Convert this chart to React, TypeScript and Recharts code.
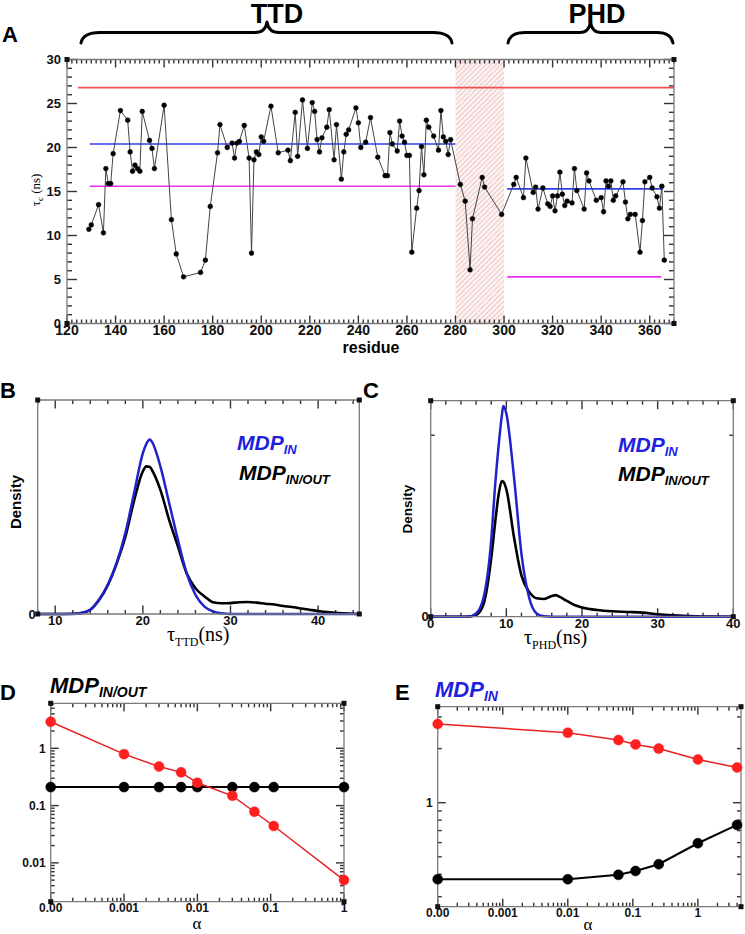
import React from 'react';
import { ComposedChart, Line, XAxis, YAxis, ReferenceLine, ReferenceArea, ReferenceDot } from 'recharts';

const SANS = '"Liberation Sans", Arial, Helvetica, sans-serif';
const SERIF = '"Liberation Serif", "Times New Roman", serif';
const GREY = '#7a7a7a';
const TICK = '#333';

// ---------------- Panel A data ----------------
const residues = [
  129, 130, 133, 135, 136, 137, 138, 139, 142, 145, 146, 147, 148, 149, 150, 151, 154, 155, 156, 160,
  163, 165, 168, 175, 177, 179, 182, 183, 186, 188, 189, 190, 191, 193, 195, 196, 197, 198, 199, 200,
  201, 204, 207, 211, 212, 214, 215, 217, 219, 221, 222, 223, 224, 225, 227, 228, 230, 231, 233, 234,
  235, 236, 239, 240, 241, 243, 245, 248, 251, 252, 253, 254, 256, 257, 258, 259, 260, 261, 262, 264,
  265, 266, 267, 268, 269, 271, 273, 274, 275, 276, 277, 278, 282, 284, 286, 287, 291, 292, 299, 304,
  305, 308, 309, 312, 313, 314, 316, 318, 319, 320, 321, 322, 323, 324, 325, 326, 328, 329, 330, 333,
  334, 335, 338, 340, 341, 342, 343, 344, 345, 346, 349, 350, 351, 352, 354, 356, 357, 358, 360, 361,
  363, 364, 365, 366,
];
const tauC = [
  10.7, 11.2, 13.5, 10.3, 17.6, 15.9, 15.9, 19.3, 24.2, 23.1, 19.5, 17.3, 18.0, 17.6, 17.3, 24.1, 20.8, 19.9, 17.6, 24.8,
  11.8, 7.9, 5.3, 5.8, 7.2, 13.3, 19.4, 22.6, 20.0, 20.5, 18.8, 20.5, 20.7, 22.5, 18.8, 8.0, 18.6, 19.5, 19.2, 21.2,
  20.7, 24.7, 19.4, 19.7, 18.5, 24.0, 19.0, 25.4, 19.9, 25.1, 24.1, 20.9, 19.5, 21.1, 22.3, 24.3, 18.6, 22.6, 16.4, 19.5,
  21.5, 22.0, 24.5, 22.8, 20.0, 20.6, 23.4, 18.9, 16.8, 16.8, 21.7, 20.4, 19.6, 23.0, 21.3, 20.6, 19.1, 19.1, 8.1, 13.1,
  15.1, 20.1, 16.9, 23.1, 22.3, 21.3, 19.7, 24.2, 21.2, 20.7, 19.2, 20.9, 15.8, 13.9, 6.1, 11.9, 16.6, 15.5, 12.4, 15.8,
  16.6, 14.3, 18.8, 14.9, 15.5, 13.0, 15.4, 13.6, 13.3, 14.5, 12.8, 14.5, 17.2, 14.7, 13.4, 13.9, 13.7, 17.6, 15.1, 13.0,
  17.1, 16.2, 14.0, 14.3, 12.7, 16.2, 15.6, 16.2, 14.0, 14.5, 16.1, 13.8, 11.9, 12.4, 12.4, 8.1, 11.7, 16.1, 16.6, 15.4,
  14.4, 13.1, 15.6, 7.2,
];
const overallMean = { from: 124.5, to: 370, value: 26.8 };
const ttdBlue = { from: 129.4, to: 280, value: 20.4 };
const ttdMagenta = { from: 129.4, to: 280, value: 15.6 };
const phdBlue = { from: 301.3, to: 365.5, value: 15.3 };
const phdMagenta = { from: 301.3, to: 364.8, value: 5.3 };
const linkerRegion = [280, 300];

// ---------------- Panel B data ----------------
const tauTTD = [8, 10, 12, 13, 14, 15, 16, 17, 18, 19, 20, 20.4, 20.8, 21, 22, 23, 24, 25, 26, 27, 28, 29, 30, 31, 32, 33, 34, 35, 36, 37, 38, 39, 40, 41, 42, 43, 44, 44.7];
const ttdIn = [0, 0, 0, 0.005, 0.02, 0.067, 0.137, 0.238, 0.378, 0.565, 0.752, 0.795, 0.815, 0.807, 0.69, 0.519, 0.347, 0.19, 0.09, 0.036, 0.012, 0.003, 0, 0, 0, 0, 0, 0, 0, 0, 0, 0, 0, 0, 0, 0, 0, 0];
const ttdInOut = [0, 0, 0.001, 0.005, 0.02, 0.065, 0.135, 0.235, 0.36, 0.53, 0.667, 0.69, 0.687, 0.675, 0.58, 0.44, 0.316, 0.19, 0.12, 0.083, 0.055, 0.05, 0.051, 0.055, 0.056, 0.053, 0.048, 0.044, 0.037, 0.033, 0.026, 0.02, 0.014, 0.009, 0.006, 0.003, 0.001, 0];

// ---------------- Panel C data ----------------
const tauPHD = [0, 4, 5, 6, 7, 8, 8.5, 9, 9.4, 9.6, 10, 11, 12, 13, 14, 15, 16, 16.5, 17, 18, 19, 20, 22, 24, 26, 28, 30, 32, 35, 40];
const phdIn = [0, 0, 0, 0.015, 0.09, 0.355, 0.6, 0.8, 0.93, 0.975, 0.94, 0.65, 0.29, 0.09, 0.015, 0.002, 0, 0, 0, 0, 0, 0, 0, 0, 0, 0, 0, 0, 0, 0];
const phdInOut = [0, 0, 0.001, 0.008, 0.06, 0.27, 0.43, 0.57, 0.628, 0.625, 0.59, 0.37, 0.19, 0.116, 0.085, 0.082, 0.096, 0.1, 0.093, 0.073, 0.054, 0.043, 0.031, 0.025, 0.022, 0.019, 0.011, 0.006, 0.002, 0];

// ---------------- Panel D data ----------------
const alphaD = [0.0001, 0.001, 0.003, 0.006, 0.01, 0.03, 0.06, 0.11, 1];
const redD = [2.9, 0.79, 0.48, 0.38, 0.25, 0.148, 0.078, 0.044, 0.005];
const blackD = [0.21, 0.21, 0.21, 0.21, 0.21, 0.21, 0.21, 0.21, 0.21];

// ---------------- Panel E data ----------------
const alphaE = [0.0001, 0.01, 0.06, 0.11, 0.25, 1, 4];
const redE = [2.74, 2.45, 2.23, 2.11, 2.0, 1.74, 1.57];
const blackE = [0.375, 0.375, 0.397, 0.417, 0.455, 0.595, 0.752];

// ---------------- tick definitions ----------------
const ticksA_x = Array.from({ length: 126 }, (_, i) => 120 + i * 2);
const majorsA_x = [120, 140, 160, 180, 200, 220, 240, 260, 280, 300, 320, 340, 360];
const ticksA_y = Array.from({ length: 31 }, (_, i) => i);
const majorsA_y = [0, 5, 10, 15, 20, 25, 30];
const ticksB_x = Array.from({ length: 19 }, (_, i) => 8 + i * 2);
const majorsB_x = [10, 20, 30, 40];
const ticksC_x = Array.from({ length: 21 }, (_, i) => i * 2);
const majorsC_x = [0, 10, 20, 30, 40];
const majorsLogX = [0.0001, 0.001, 0.01, 0.1, 1];
const majorsD_y = [0.01, 0.1, 1];
const majorsE_y = [1];

function logTicks(min: number, max: number) {
  const out: number[] = [];
  for (let e = -5; e <= 2; e++) {
    for (let k = 1; k <= 9; k++) {
      const v = +(k * Math.pow(10, e)).toPrecision(6);
      if (v >= min * 0.9999 && v <= max * 1.0001) out.push(v);
    }
  }
  return out;
}
const ticksD_x = logTicks(0.0001, 1);
const ticksE_x = logTicks(0.0001, 4.6);
const ticksD_y = logTicks(0.0021, 6.1);
const ticksE_y = logTicks(0.264, 3.42);

const fmtAlpha = (v: number) => (v < 0.0005 ? '0.00' : String(v));

function isIn(v: number, arr: number[]) {
  return arr.some((m) => Math.abs(v - m) <= 1e-6 * Math.abs(m) + 1e-12);
}

function makeLabel(orient: 'bottom' | 'left', fontSize = 13, fmt: (v: number) => string = (v) => String(v), gap = 3) {
  return function Label(props: any) {
    const x = Number(props.x);
    const y = Number(props.y);
    const v = Number(props.payload.value);
    if (orient === 'bottom') {
      return (
        <text x={x} y={y + gap + fontSize * 0.72} textAnchor="middle" fontSize={fontSize} fontWeight="bold" fontFamily={SANS} fill="#111" stroke="none">
          {fmt(v)}
        </text>
      );
    }
    return (
      <text x={x - gap} y={y + fontSize * 0.36} textAnchor="end" fontSize={fontSize} fontWeight="bold" fontFamily={SANS} fill="#111" stroke="none">
        {fmt(v)}
      </text>
    );
  };
}

// Inward tick marks: a tiny rect at each end of a reference line
function vTickShape(len: number) {
  return function VTick(p: any) {
    const x = Number(p.x1);
    const yA = Math.max(Number(p.y1), Number(p.y2));
    const yB = Math.min(Number(p.y1), Number(p.y2));
    return (
      <g>
        <rect x={x - 0.7} y={yA - len} width={1.4} height={len} fill={TICK} stroke="none" />
        <rect x={x - 0.7} y={yB} width={1.4} height={len} fill={TICK} stroke="none" />
      </g>
    );
  };
}
function hTickShape(len: number) {
  return function HTick(p: any) {
    const y = Number(p.y1);
    const xA = Math.min(Number(p.x1), Number(p.x2));
    const xB = Math.max(Number(p.x1), Number(p.x2));
    return (
      <g>
        <rect x={xA} y={y - 0.7} width={len} height={1.4} fill={TICK} stroke="none" />
        <rect x={xB - len} y={y - 0.7} width={len} height={1.4} fill={TICK} stroke="none" />
      </g>
    );
  };
}
function xTickMarks(key: string, ticks: number[], majors: number[], majorLen: number, minorLen: number) {
  return ticks.map((t) => (
    <ReferenceLine key={key + t} xAxisId="b" yAxisId="l" x={t} ifOverflow="visible" stroke={TICK} shape={vTickShape(isIn(t, majors) ? majorLen : minorLen)} />
  ));
}
function yTickMarks(key: string, ticks: number[], majors: number[], majorLen: number, minorLen: number) {
  return ticks.map((t) => (
    <ReferenceLine key={key + t} xAxisId="b" yAxisId="l" y={t} ifOverflow="visible" stroke={TICK} shape={hTickShape(isIn(t, majors) ? majorLen : minorLen)} />
  ));
}
function cornerSquares(key: string, xd: [number, number], yd: [number, number]) {
  const pts = [
    [xd[0], yd[0]], [xd[1], yd[0]], [xd[0], yd[1]], [xd[1], yd[1]],
  ];
  return pts.map((p, i) => (
    <ReferenceDot key={key + i} xAxisId="b" yAxisId="l" x={p[0]} y={p[1]} ifOverflow="visible"
      shape={(s: any) => <rect x={Number(s.cx) - 2.5} y={Number(s.cy) - 2.5} width={5} height={5} fill="#111" />} />
  ));
}

const axisLine = { stroke: GREY, strokeWidth: 1.3 };
const frameAxis: any = { type: 'number', interval: 0, tickSize: 0, tickMargin: 0, axisLine, tickLine: false };

// ---------------- Panel A ----------------
function PanelA() {
  const data = residues.map((r, i) => ({ residue: r, tau: tauC[i] }));
  const seg = (s: { from: number; to: number; value: number }) => [
    { x: s.from, y: s.value },
    { x: s.to, y: s.value },
  ];
  return (
    <div style={{ position: 'absolute', left: 0, top: 0 }}>
      <ComposedChart width={745} height={370} data={data} margin={{ top: 58.5, right: 70, bottom: 16.5, left: 27 }}>
        <XAxis xAxisId="b" dataKey="residue" {...frameAxis} domain={[120, 370]} ticks={majorsA_x} height={30} tick={makeLabel('bottom', 14, String, 1)} />
        <XAxis xAxisId="t" orientation="top" {...frameAxis} domain={[120, 370]} ticks={majorsA_x} height={1} tick={false} />
        <YAxis yAxisId="l" {...frameAxis} domain={[0, 30]} ticks={majorsA_y} width={40} tick={makeLabel('left', 13, String, 6)} />
        <YAxis yAxisId="r" orientation="right" {...frameAxis} domain={[0, 30]} ticks={majorsA_y} width={1} tick={false} />
        <ReferenceArea xAxisId="b" yAxisId="l" x1={linkerRegion[0]} x2={linkerRegion[1]} y1={0} y2={30} fill="url(#hatchA)" fillOpacity={1} stroke="none" />
        {xTickMarks('ax', ticksA_x, majorsA_x, 8, 4)}
        {yTickMarks('ay', ticksA_y, majorsA_y, 10, 5)}
        <ReferenceLine xAxisId="b" yAxisId="l" segment={seg(overallMean)} stroke="#f05050" strokeWidth={1.6} />
        <ReferenceLine xAxisId="b" yAxisId="l" segment={seg(ttdBlue)} stroke="#2f3cf0" strokeWidth={1.6} />
        <ReferenceLine xAxisId="b" yAxisId="l" segment={seg(ttdMagenta)} stroke="#ee30ee" strokeWidth={1.6} />
        <ReferenceLine xAxisId="b" yAxisId="l" segment={seg(phdBlue)} stroke="#2f3cf0" strokeWidth={1.6} />
        <ReferenceLine xAxisId="b" yAxisId="l" segment={seg(phdMagenta)} stroke="#ee30ee" strokeWidth={1.6} />
        <Line xAxisId="b" yAxisId="l" dataKey="tau" type="linear" stroke="#444" strokeWidth={1} dot={{ r: 2.4, fill: '#000', stroke: '#000', strokeWidth: 0.5 }} isAnimationActive={false} />
        {cornerSquares('ac', [120, 370], [0, 30])}
      </ComposedChart>
    </div>
  );
}

// ---------------- Panels B & C ----------------
function DensityPanel(props: {
  left: number; xs: number[]; inVals: number[]; inOutVals: number[]; domain: [number, number]; ticks: number[]; majors: number[];
  margin: any; yTicks: number[];
}) {
  const inData = props.xs.map((x, i) => ({ t: x, d: props.inVals[i] }));
  const ioData = props.xs.map((x, i) => ({ t: x, d: props.inOutVals[i] }));
  return (
    <div style={{ position: 'absolute', left: props.left, top: 370 }}>
      <ComposedChart width={props.left === 0 ? 372 : 373} height={290} margin={props.margin}>
        <XAxis xAxisId="b" dataKey="t" {...frameAxis} domain={props.domain} ticks={props.majors} height={20} tick={makeLabel('bottom', 13, String, 2)} />
        <XAxis xAxisId="t" orientation="top" {...frameAxis} domain={props.domain} ticks={props.majors} height={1} tick={false} />
        <YAxis yAxisId="l" {...frameAxis} domain={[0, 1]} ticks={[0]} width={props.left === 0 ? 30 : 40} tick={makeLabel('left', 13, String, 2)} />
        <YAxis yAxisId="r" orientation="right" {...frameAxis} domain={[0, 1]} ticks={[0]} width={1} tick={false} />
        {xTickMarks('dx', props.ticks, props.majors, 8.5, 4)}
        {yTickMarks('dy', props.yTicks, [], 5, 4)}
        <Line xAxisId="b" yAxisId="l" data={ioData} dataKey="d" type="monotone" stroke="#000" strokeWidth={2.6} dot={false} isAnimationActive={false} />
        <Line xAxisId="b" yAxisId="l" data={inData} dataKey="d" type="monotone" stroke="#2222cc" strokeWidth={2.5} dot={false} isAnimationActive={false} />
        {cornerSquares('dc', props.domain, [0, 1])}
      </ComposedChart>
    </div>
  );
}

// ---------------- Panels D & E ----------------
function AlphaPanel(props: {
  left: number; width: number; alpha: number[]; red: number[]; black: number[]; xDomain: [number, number]; yDomain: [number, number];
  xTicks: number[]; yTicks: number[]; yMajors: number[]; margin: any;
}) {
  const redData = props.alpha.map((a, i) => ({ a, v: props.red[i] }));
  const blackData = props.alpha.map((a, i) => ({ a, v: props.black[i] }));
  const xMajors = majorsLogX.filter((m) => m >= props.xDomain[0] && m <= props.xDomain[1]);
  return (
    <div style={{ position: 'absolute', left: props.left, top: 650 }}>
      <ComposedChart width={props.width} height={284} margin={props.margin}>
        <XAxis xAxisId="b" dataKey="a" {...frameAxis} scale="log" domain={props.xDomain} ticks={xMajors} height={20} tick={makeLabel('bottom', 12, fmtAlpha, 2)} />
        <XAxis xAxisId="t" orientation="top" {...frameAxis} scale="log" domain={props.xDomain} ticks={xMajors} height={1} tick={false} />
        <YAxis yAxisId="l" {...frameAxis} scale="log" domain={props.yDomain} ticks={props.yMajors} width={40} tick={makeLabel('left', 12, String, 5)} />
        <YAxis yAxisId="r" orientation="right" {...frameAxis} scale="log" domain={props.yDomain} ticks={props.yMajors} width={1} tick={false} />
        {xTickMarks('lx', props.xTicks, xMajors, 8, 4)}
        {yTickMarks('ly', props.yTicks, props.yMajors, 8, 4)}
        <Line xAxisId="b" yAxisId="l" data={blackData} dataKey="v" type="linear" stroke="#000" strokeWidth={2} dot={{ r: 5, fill: '#000', stroke: '#000', strokeWidth: 0.5 }} isAnimationActive={false} />
        <Line xAxisId="b" yAxisId="l" data={redData} dataKey="v" type="linear" stroke="#e82020" strokeWidth={1.5} dot={{ r: 5, fill: '#ff1f1f', stroke: '#ff1f1f', strokeWidth: 0.5 }} isAnimationActive={false} />
        {cornerSquares('lc', props.xDomain, props.yDomain)}
      </ComposedChart>
    </div>
  );
}

function Sub(props: { x: number; y: number; main: string; sub: string; color: string; size: number; subSize: number }) {
  return (
    <text x={props.x} y={props.y} fontFamily={SANS} fontWeight="bold" fontStyle="italic" fontSize={props.size} fill={props.color}>
      {props.main}
      <tspan fontSize={props.subSize} dy={4}>{props.sub}</tspan>
    </text>
  );
}

function Overlay() {
  const brace = { fill: 'none', stroke: '#000', strokeWidth: 3, strokeLinecap: 'round' as const, strokeLinejoin: 'round' as const };
  return (
    <svg width={745} height={934} style={{ position: 'absolute', left: 0, top: 0, pointerEvents: 'none', overflow: 'visible' }}>
      <defs>
        <pattern id="hatchA" patternUnits="userSpaceOnUse" width="3.6" height="3.6" patternTransform="rotate(45)">
          <rect width="3.6" height="3.6" fill="#fcf1f1" />
          <line x1="0" y1="0" x2="0" y2="3.6" stroke="#dca0a0" strokeWidth="1" />
        </pattern>
      </defs>
      <text x={2} y={42} fontFamily={SANS} fontWeight="bold" fontSize={22}>A</text>
      <text x={277} y={23} textAnchor="middle" fontFamily={SANS} fontWeight="bold" fontSize={27}>TTD</text>
      <text x={597} y={23} textAnchor="middle" fontFamily={SANS} fontWeight="bold" fontSize={27}>PHD</text>
      <path d="M81,43 Q83,32.5 100,32.5 L255,32.5 Q265.5,32.5 267,22 Q268.5,32.5 279,32.5 L433,32.5 Q450,32.5 452,43" {...brace} />
      <path d="M508,43 Q510,32.5 525,32.5 L580,32.5 Q589,32.5 590.5,22 Q592,32.5 601,32.5 L657,32.5 Q671,32.5 673,43" {...brace} />
      <text transform="translate(40,190) rotate(-90)" textAnchor="middle" fontFamily={SERIF} fontSize={13}>
        τ<tspan fontSize={9} dy={3}>c</tspan><tspan dy={-3}> (ns)</tspan>
      </text>
      <text x={371} y={353} textAnchor="middle" fontFamily={SANS} fontWeight="bold" fontSize={16}>residue</text>

      <text x={0} y={398} fontFamily={SANS} fontWeight="bold" fontSize={22}>B</text>
      <text x={363} y={398} fontFamily={SANS} fontWeight="bold" fontSize={22}>C</text>
      <text transform="translate(21,502) rotate(-90)" textAnchor="middle" fontFamily={SANS} fontWeight="bold" fontSize={15}>Density</text>
      <text transform="translate(412,509) rotate(-90)" textAnchor="middle" fontFamily={SANS} fontWeight="bold" fontSize={13.5}>Density</text>
      <Sub x={237} y={450} main="MDP" sub="IN" color="#1f1fe0" size={21} subSize={13} />
      <Sub x={239} y={480} main="MDP" sub="IN/OUT" color="#000" size={21} subSize={13} />
      <Sub x={618} y={452} main="MDP" sub="IN" color="#1f1fe0" size={21} subSize={13} />
      <Sub x={618} y={481} main="MDP" sub="IN/OUT" color="#000" size={21} subSize={13} />
      <text x={167} y={641} fontFamily={SERIF} fontSize={20}>
        τ<tspan fontSize={12} dy={5}>TTD</tspan><tspan dy={-5}>(ns)</tspan>
      </text>
      <text x={524} y={644} fontFamily={SERIF} fontSize={20}>
        τ<tspan fontSize={12} dy={5}>PHD</tspan><tspan dy={-5}>(ns)</tspan>
      </text>

      <text x={0} y={700} fontFamily={SANS} fontWeight="bold" fontSize={22}>D</text>
      <text x={395} y={700} fontFamily={SANS} fontWeight="bold" fontSize={22}>E</text>
      <Sub x={50} y={693} main="MDP" sub="IN/OUT" color="#000" size={22} subSize={14} />
      <Sub x={435} y={697} main="MDP" sub="IN" color="#1f1fe0" size={22} subSize={14} />
      <text x={197} y={929} textAnchor="middle" fontFamily={SERIF} fontSize={17}>α</text>
      <text x={588} y={930} textAnchor="middle" fontFamily={SERIF} fontSize={17}>α</text>
    </svg>
  );
}

export default function App() {
  return (
    <div style={{ position: 'absolute', left: 0, top: 0, width: 745, height: 934, background: '#fff', overflow: 'hidden' }}>
      <PanelA />
      <DensityPanel left={0} xs={tauTTD} inVals={ttdIn} inOutVals={ttdInOut} domain={[8, 44.7]} ticks={ticksB_x} majors={majorsB_x} yTicks={[]}
        margin={{ top: 29, right: 11.7, bottom: 26, left: 7.7 }} />
      <DensityPanel left={372} xs={tauPHD} inVals={phdIn} inOutVals={phdInOut} domain={[0, 40]} ticks={ticksC_x} majors={majorsC_x} yTicks={[0.84]}
        margin={{ top: 29.7, right: 10.7, bottom: 23.3, left: 18.7 }} />
      <AlphaPanel left={0} width={372} alpha={alphaD} red={redD} black={blackD} xDomain={[0.0001, 1]} yDomain={[0.0021, 6.1]}
        xTicks={ticksD_x} yTicks={ticksD_y} yMajors={majorsD_y} margin={{ top: 52.3, right: 27, bottom: 12.3, left: 10.7 }} />
      <AlphaPanel left={372} width={373} alpha={alphaE} red={redE} black={blackE} xDomain={[0.0001, 4.6]} yDomain={[0.264, 3.42]}
        xTicks={ticksE_x} yTicks={ticksE_y} yMajors={majorsE_y} margin={{ top: 55.7, right: 3, bottom: 7.3, left: 25.7 }} />
      <Overlay />
    </div>
  );
}
